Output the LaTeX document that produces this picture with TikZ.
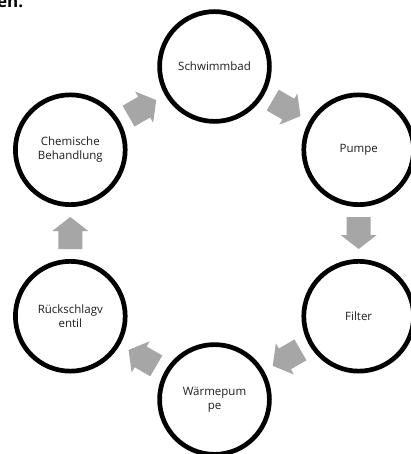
\documentclass[tikz,border=0pt]{standalone}
\usepackage{fontspec}
\setmainfont{Open Sans}
\usetikzlibrary{calc}
\definecolor{arrowgray}{RGB}{166,166,166}
\definecolor{textdark}{RGB}{30,30,30}
\tikzset{
  stage/.style={circle, draw=black, fill=white, line width=4.7pt, minimum size=109.8pt, inner sep=0pt,
    align=center, text=textdark, font=\fontsize{11.5}{13.8}\selectfont},
  blockarrowfill/.style={fill=arrowgray}
}
\newcommand\flowarrow[3]{%
  \begin{scope}[shift={($(#1)!0.5!(#2)$)}, rotate=#3]
    \fill[blockarrowfill] (-16,-12) -- (2,-12) -- (2,-18) -- (16,0) -- (2,18) -- (2,12) -- (-16,12) -- cycle;
  \end{scope}}
\begin{document}
\begin{tikzpicture}[x=1pt,y=-1pt]
  \useasboundingbox (0,0) rectangle (410,454);
  \fill[white] (0,0) rectangle (410,454);
  \node[anchor=base west, inner sep=0pt, text=black, font=\fontsize{17}{20}\selectfont\bfseries] (frag) at (-3,7.5) {en.};
  \node[stage] (s) at (214.5,66.5) {Schwimmbad};
  \node[stage] (p) at (358.7,149.75) {Pumpe};
  \node[stage] (f) at (358.7,316.25) {Filter};
  \node[stage] (w) at (214.5,399.5) {Wärmepum\\pe};
  \node[stage] (r) at (70.3,316.25) {Rückschlagv\\entil};
  \node[stage] (c) at (70.3,149.75) {Chemische\\Behandlung};
  \flowarrow{s}{p}{-30}
  \flowarrow{p}{f}{-90}
  \flowarrow{f}{w}{-150}
  \flowarrow{w}{r}{150}
  \flowarrow{r}{c}{90}
  \flowarrow{c}{s}{30}
\end{tikzpicture}
\end{document}
